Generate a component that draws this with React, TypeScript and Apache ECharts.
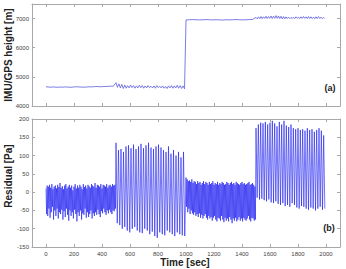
import React, { useEffect, useRef } from "react";
import * as echarts from "echarts";

// ---------- data ----------
const timeTicks = [0, 200, 400, 600, 800, 1000, 1200, 1400, 1600, 1800, 2000];
const segStarts = [0, 500, 1000, 1500];

// (a) IMU/GPS height [m]
const h1 = [4660, 4650, 4645, 4655, 4640, 4650, 4645, 4655, 4650, 4640, 4650, 4660, 4655, 4650, 4645, 4650, 4660, 4655, 4665, 4670, 4660, 4665, 4670, 4675, 4680, 4680];
const h2High = [4800, 4760, 4740, 4720, 4700, 4720, 4700, 4690, 4710, 4700, 4690, 4700, 4680, 4690, 4700, 4680, 4690, 4670, 4690, 4700, 4690, 4710, 4700, 4690];
const h2Low = [4640, 4620, 4600, 4610, 4620, 4630, 4610, 4620, 4630, 4610, 4620, 4630, 4620, 4610, 4630, 4620, 4610, 4600, 4620, 4610, 4620, 4610, 4600, 4590];
const h3 = [6950, 6960, 6965, 6960, 6955, 6960, 6965, 6960, 6955, 6960, 6955, 6950, 6960, 6955, 6960, 6965, 6960, 6955, 6960, 6965, 6970];
const h4High = [7040, 7060, 7070, 7060, 7080, 7070, 7090, 7080, 7100, 7090, 7080, 7070, 7060, 7050, 7040, 7050, 7060, 7050, 7060, 7070, 7060, 7070, 7060, 7050, 7060, 7070, 7050, 7040];
const h4Low = [6990, 7000, 6995, 7005, 7000, 7010, 7000, 7010, 7005, 7000, 6990, 6990, 7000, 6995, 7000, 7000, 7010, 7000, 7005, 7010, 7000, 7005, 7000, 6995, 7000, 7005, 6995, 7000];

// (b) Residual [Pa]
const r1High = [10, 18, 15, 20, 12, 22, 8, 15, 18, 10, 20, 14, 25, 12, 16, 8, 18, 22, 10, 15, 20, 12, 18, 5, 15, 22, 10, 18, 12, 20, 15, 8, 22, 14, 18, 10, 20, 16, 12, 22, 18, 15, 25, 12, 20, 18, 15, 22, 10, 20, 18, 15, 22, 12, 18, 20, 15, 22, 18, 20];
const r1Low = [-60, -65, -45, -70, -55, -40, -75, -50, -65, -45, -72, -55, -60, -48, -75, -52, -68, -45, -62, -78, -50, -65, -55, -72, -48, -60, -80, -55, -65, -50, -75, -58, -62, -45, -70, -55, -68, -60, -50, -72, -58, -65, -55, -62, -48, -60, -68, -52, -58, -45, -55, -62, -50, -58, -48, -55, -60, -50, -52, -45];
const r2High = [135, 115, 118, 110, 125, 128, 120, 130, 118, 125, 132, 120, 128, 135, 122, 118, 125, 130, 122, 115, 110, 125, 105, 115, 100, 110, 95, 110];
const r2Low = [-85, -90, -100, -95, -105, -110, -100, -95, -105, -110, -112, -100, -105, -115, -108, -120, -125, -110, -115, -118, -105, -110, -115, -120, -110, -115, -118, -120];
const r3High = [40, 35, 30, 32, 28, 35, 25, 30, 28, 22, 30, 25, 28, 20, 25, 30, 22, 28, 25, 20, 28, 22, 25, 30, 20, 25, 22, 28, 20, 25, 22, 28, 25, 20, 22, 28, 25, 20, 25, 28, 22, 25, 20, 28, 25, 22, 20, 25, 28, 22, 25, 20, 22, 25, 28, 20, 22, 25, 20, 15];
const r3Low = [-40, -55, -45, -60, -50, -58, -62, -55, -65, -60, -68, -58, -70, -62, -72, -65, -60, -70, -75, -65, -72, -68, -78, -70, -65, -75, -80, -70, -72, -78, -65, -75, -82, -70, -78, -72, -80, -68, -75, -85, -72, -78, -70, -80, -75, -68, -78, -72, -80, -70, -75, -78, -72, -65, -75, -80, -70, -72, -78, -75];
const r4High = [175, 185, 190, 188, 192, 185, 190, 195, 188, 180, 192, 185, 195, 182, 178, 185, 175, 172, 175, 170, 172, 168, 175, 170, 172, 165, 170, 175, 168, 155];
const r4Low = [-15, -20, -18, -22, -25, -20, -28, -30, -25, -32, -35, -30, -38, -35, -40, -30, -35, -42, -45, -38, -40, -45, -48, -42, -45, -50, -45, -40, -48, -45];

// ---------- helpers ----------
function interleave(hi: number[], lo: number[]): number[] {
  const out: number[] = [];
  for (let i = 0; i < hi.length; i++) {
    out.push(hi[i]);
    if (i < lo.length) out.push(lo[i]);
  }
  return out;
}
function place(values: number[], start: number, span = 500): [number, number][] {
  const step = span / values.length;
  return values.map((v, i) => [start + i * step, v]);
}

const heightData = [
  ...place(h1, segStarts[0]),
  ...place(interleave(h2High, h2Low), segStarts[1]),
  ...place(h3, segStarts[2]),
  ...place(interleave(h4High, h4Low), segStarts[3]),
];
const residualData = [
  ...place(interleave(r1High, r1Low), segStarts[0]),
  ...place(interleave(r2High, r2Low), segStarts[1]),
  ...place(interleave(r3High, r3Low), segStarts[2]),
  ...place(interleave(r4High, r4Low), segStarts[3]),
];

const FONT = "'Liberation Sans', Arial, sans-serif";
const BOX = "#a8a8a8";
const LABEL = "#444";
const plain = (v: number) => String(v);

function xAx(gridIndex: number, position: "top" | "bottom", showLabel: boolean) {
  return {
    type: "value",
    gridIndex,
    position,
    min: -100,
    max: 2100,
    axisLine: { show: true, onZero: false, lineStyle: { color: BOX, width: 1 } },
    axisTick: { show: true, inside: true, length: 3, customValues: timeTicks, lineStyle: { color: BOX } },
    axisLabel: { show: showLabel, customValues: timeTicks, formatter: plain, fontSize: 6, color: LABEL, fontFamily: FONT, margin: 4 },
    splitLine: { show: false },
  };
}
function yAx(gridIndex: number, position: "left" | "right", min: number, max: number, interval: number, showLabel: boolean) {
  return {
    type: "value",
    gridIndex,
    position,
    min,
    max,
    interval,
    axisLine: { show: true, onZero: false, lineStyle: { color: BOX, width: 1 } },
    axisTick: { show: true, inside: true, length: 3, lineStyle: { color: BOX } },
    axisLabel: { show: showLabel, formatter: plain, fontSize: 6, color: LABEL, fontFamily: FONT, margin: 3, showMaxLabel: max % interval === 0 },
    splitLine: { show: false },
  };
}

export default function App() {
  const ref = useRef<HTMLDivElement>(null);
  useEffect(() => {
    if (!ref.current) return;
    const chart = echarts.init(ref.current, undefined, { renderer: "svg" });
    chart.setOption({
      animation: false,
      backgroundColor: "#fff",
      grid: [
        { left: 32, right: 6, top: 4, height: 102 },
        { left: 32, right: 6, top: 119, height: 128 },
      ],
      xAxis: [xAx(0, "bottom", false), xAx(0, "top", false), xAx(1, "bottom", true), xAx(1, "top", false)],
      yAxis: [
        yAx(0, "left", 4000, 7500, 1000, true),
        yAx(0, "right", 4000, 7500, 1000, false),
        yAx(1, "left", -150, 200, 50, true),
        yAx(1, "right", -150, 200, 50, false),
      ],
      series: [
        {
          type: "line",
          xAxisIndex: 0,
          yAxisIndex: 0,
          data: heightData,
          showSymbol: false,
          lineStyle: { color: "#5a5ae0", width: 0.8 },
        },
        {
          type: "line",
          xAxisIndex: 2,
          yAxisIndex: 2,
          data: residualData,
          showSymbol: false,
          lineStyle: { color: "#1818f0", width: 0.6 },
        },
      ],
      graphic: [
        { type: "text", x: 8, y: 55, rotation: Math.PI / 2, style: { text: "IMU/GPS height [m]", font: `bold 10px ${FONT}`, fill: "#222", textAlign: "center", textVerticalAlign: "middle" } },
        { type: "text", x: 8, y: 176, rotation: Math.PI / 2, style: { text: "Residual [Pa]", font: `bold 10px ${FONT}`, fill: "#222", textAlign: "center", textVerticalAlign: "middle" } },
        { type: "text", x: 185, y: 262, style: { text: "Time [sec]", font: `bold 10px ${FONT}`, fill: "#222", textAlign: "center", textVerticalAlign: "middle" } },
        { type: "text", x: 330, y: 88, style: { text: "(a)", font: `bold 9px ${FONT}`, fill: "#222", textAlign: "center", textVerticalAlign: "middle" } },
        { type: "text", x: 329, y: 228, style: { text: "(b)", font: `bold 9px ${FONT}`, fill: "#222", textAlign: "center", textVerticalAlign: "middle" } },
      ],
    });
    return () => chart.dispose();
  }, []);
  return <div ref={ref} style={{ width: 346, height: 269, position: "absolute", left: 0, top: 0 }} />;
}
